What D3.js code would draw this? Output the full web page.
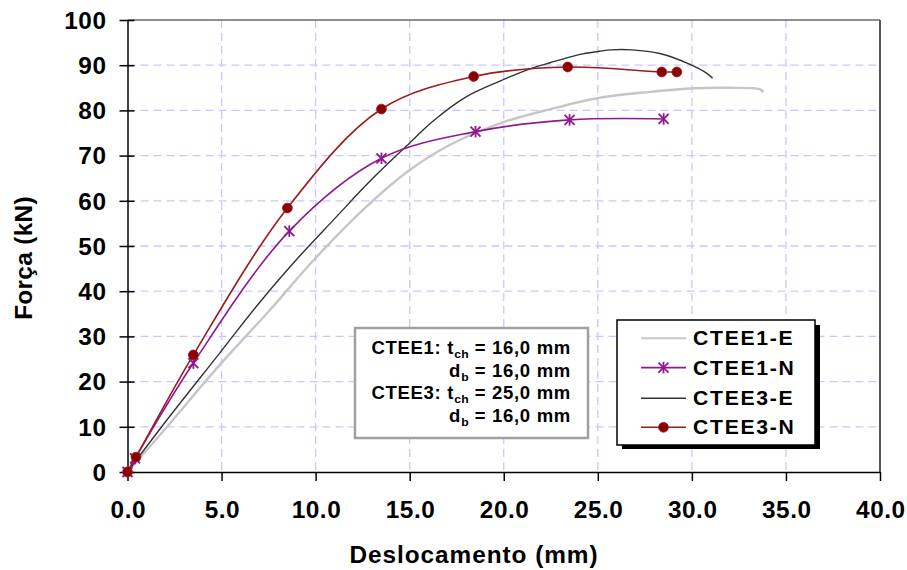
<!DOCTYPE html>
<html>
<head>
<meta charset="utf-8">
<script src="https://cdn.jsdelivr.net/npm/d3@7"></script>
<style>
  body { margin: 0; background: #fff; }
  text { font-family: "Liberation Sans", Arial, sans-serif; font-weight: bold; fill: #000; }
</style>
</head>
<body>
<svg id="chart" width="907" height="570"></svg>
<script>
// Axis ticks
const xTicks = [0, 5, 10, 15, 20, 25, 30, 35, 40];
const yTicks = [0, 10, 20, 30, 40, 50, 60, 70, 80, 90, 100];

// CTEE1-E (no markers)
const e1X = [0, 2.0, 4.9, 7.5, 9.9, 12.7, 15.0, 17.2, 20.0, 22.5, 25.1, 27.8, 30.1, 32.0, 33.6, 33.8];
const e1Y = [0, 9.5, 23.7, 35.5, 46.9, 58.7, 66.8, 72.5, 77.4, 80.3, 82.8, 84.1, 84.9, 85.0, 84.7, 84.1];

// CTEE1-N (star markers)
const n1X = [0, 0.4, 3.5, 8.6, 13.5, 18.5, 23.5, 28.5];
const n1Y = [0, 3.0, 24.1, 53.3, 69.4, 75.3, 77.9, 78.1];

// CTEE3-E (no markers)
const e3X = [0, 2.0, 4.9, 7.0, 9.2, 11.0, 13.0, 15.0, 16.2, 18.0, 19.8, 21.4, 22.5, 23.5, 24.2, 25.1, 25.7, 26.8, 28.3, 29.9, 30.8, 31.1];
const e3Y = [0, 11.0, 26.3, 37.4, 48.0, 56.0, 64.8, 72.8, 77.5, 83.0, 86.5, 89.2, 90.6, 91.8, 92.5, 93.1, 93.4, 93.4, 92.6, 90.2, 88.2, 87.1];

// CTEE3-N (circle markers)
const n3X = [0, 0.45, 3.5, 8.5, 13.5, 18.4, 23.4, 28.4, 29.2];
const n3Y = [0, 3.3, 25.9, 58.4, 80.3, 87.5, 89.6, 88.5, 88.5];

const legendNames = ["CTEE1-E", "CTEE1-N", "CTEE3-E", "CTEE3-N"];
const noteLines = [
  { lead: "CTEE1: t", sub: "ch", tail: " = 16,0 mm" },
  { lead: "d", sub: "b", tail: " = 16,0 mm" },
  { lead: "CTEE3: t", sub: "ch", tail: " = 25,0 mm" },
  { lead: "d", sub: "b", tail: " = 16,0 mm" }
];

const svg = d3.select("#chart");
const L = 127.5, R = 880, T = 20, B = 472;
const SX = 1.06; // horizontal widening of the bold face
const x = d3.scaleLinear().domain([0, 40]).range([L, R]);
const y = d3.scaleLinear().domain([0, 100]).range([B, T]);

const zip = (xs, ys) => xs.map((v, i) => [v, ys[i]]);
const series = [
  { name: "CTEE1-E", pts: zip(e1X, e1Y), color: "#c6c6c6", width: 2.4, marker: null },
  { name: "CTEE3-E", pts: zip(e3X, e3Y), color: "#333333", width: 1.4, marker: null },
  { name: "CTEE1-N", pts: zip(n1X, n1Y), color: "#8e1a8e", width: 1.6, marker: "star" },
  { name: "CTEE3-N", pts: zip(n3X, n3Y), color: "#9a1c1c", width: 1.6, marker: "circle" }
];

// gridlines
const grid = svg.append("g").attr("stroke", "#c8c8ff").attr("stroke-width", 1.3).attr("stroke-dasharray", "8,5");
grid.selectAll("line.v").data(xTicks.filter(d => d > 0 && d < 40)).join("line")
  .attr("x1", d => x(d)).attr("x2", d => x(d)).attr("y1", T).attr("y2", B);
grid.selectAll("line.h").data(yTicks.filter(d => d > 0 && d < 100)).join("line")
  .attr("x1", L).attr("x2", R).attr("y1", d => y(d)).attr("y2", d => y(d));

// plot frame (top and right)
svg.append("line").attr("x1", L).attr("x2", R).attr("y1", T).attr("y2", T).attr("stroke", "#6a6a6a").attr("stroke-width", 1.6);
svg.append("line").attr("x1", R).attr("x2", R).attr("y1", T).attr("y2", B).attr("stroke", "#555").attr("stroke-width", 2);

// axes
const xAxis = svg.append("g").attr("transform", `translate(0,${B})`)
  .call(d3.axisBottom(x).tickValues(xTicks).tickFormat(d3.format(".1f")).tickSize(9).tickSizeOuter(0));
xAxis.select(".domain").attr("stroke", "#000").attr("stroke-width", 1.5);
xAxis.selectAll(".tick line").attr("stroke", "#000").attr("stroke-width", 1.5);
xAxis.selectAll(".tick text").attr("y", 46).attr("dy", 0).attr("x", 0.3)
  .attr("transform", `scale(${SX},1)`)
  .style("font-size", "23px").style("letter-spacing", "0.5px").attr("fill", "#000");

const yAxis = svg.append("g").attr("transform", `translate(${L},0)`)
  .call(d3.axisLeft(y).tickValues(yTicks).tickFormat(d3.format("d")).tickSize(8).tickSizeOuter(0));
yAxis.select(".domain").attr("stroke", "#000").attr("stroke-width", 1.5);
yAxis.selectAll(".tick line").attr("x1", -8).attr("x2", 7).attr("stroke", "#000").attr("stroke-width", 1.5);
yAxis.selectAll(".tick text").attr("x", -21 / SX).attr("dy", "0.36em")
  .attr("transform", `scale(${SX},1)`)
  .style("font-size", "23px").style("letter-spacing", "0.5px").attr("fill", "#000");

// axis titles
svg.append("text").attr("transform", `translate(474,563) scale(${SX},1)`).attr("text-anchor", "middle")
  .style("font-size", "23px").style("letter-spacing", "0.9px").text("Deslocamento (mm)");
svg.append("text").attr("transform", `translate(32,258) rotate(-90) scale(${SX},1)`).attr("text-anchor", "middle")
  .style("font-size", "23px").style("letter-spacing", "0.3px").text("Força (kN)");

// curves
const line = d3.line().x(d => x(d[0])).y(d => y(d[1])).curve(d3.curveCatmullRom.alpha(0.5));
const plot = svg.append("g");
series.forEach(s => {
  plot.append("path").datum(s.pts).attr("d", line).attr("fill", "none")
    .attr("stroke", s.color).attr("stroke-width", s.width).attr("stroke-linejoin", "round");
});

function star(g, cx, cy, color, r) {
  const segs = [[-r, -r, r, r], [-r, r, r, -r], [0, -r * 1.15, 0, r * 1.15]];
  segs.forEach(sg => g.append("line")
    .attr("x1", cx + sg[0]).attr("y1", cy + sg[1]).attr("x2", cx + sg[2]).attr("y2", cy + sg[3])
    .attr("stroke", color).attr("stroke-width", 1.8));
}
function circ(g, cx, cy, color) {
  g.append("circle").attr("cx", cx).attr("cy", cy).attr("r", 4.9).attr("fill", "#8b0000").attr("stroke", color).attr("stroke-width", 0.8);
}

series.forEach(s => {
  if (!s.marker) return;
  const mg = plot.append("g");
  s.pts.forEach(p => {
    if (s.marker === "star") star(mg, x(p[0]), y(p[1]), s.color, 5);
    else circ(mg, x(p[0]), y(p[1]), s.color);
  });
});

// annotation box
const note = svg.append("g");
note.append("rect").attr("x", 355).attr("y", 328).attr("width", 233).attr("height", 110)
  .attr("fill", "#fff").attr("stroke", "#a0a0a0").attr("stroke-width", 2.5);
noteLines.forEach((ln, i) => {
  const t = note.append("text").attr("transform", `translate(571,${354.3 + i * 22.5}) scale(${SX},1)`)
    .attr("text-anchor", "end")
    .style("font-size", "17.5px").style("letter-spacing", "0.65px");
  t.append("tspan").text(ln.lead);
  t.append("tspan").attr("dy", 4).style("font-size", "11.5px").style("letter-spacing", "0.2px").text(ln.sub);
  t.append("tspan").attr("dy", -4).text(ln.tail);
});

// legend
const lg = svg.append("g");
lg.append("rect").attr("x", 622).attr("y", 325).attr("width", 198).attr("height", 124).attr("fill", "#000");
lg.append("rect").attr("x", 617).attr("y", 320).attr("width", 198).attr("height", 125)
  .attr("fill", "#fff").attr("stroke", "#000").attr("stroke-width", 1.5);
const legendRowY = [338.3, 367.6, 398.3, 427.3];
legendNames.forEach((nm, i) => {
  const s = series.find(d => d.name === nm);
  const ly = legendRowY[i];
  lg.append("line").attr("x1", 641).attr("x2", 686).attr("y1", ly).attr("y2", ly)
    .attr("stroke", s.color).attr("stroke-width", Math.min(s.width, 2));
  if (s.marker === "star") star(lg, 663.5, ly, s.color, 5);
  if (s.marker === "circle") circ(lg, 663.5, ly, s.color);
  lg.append("text").attr("transform", `translate(693,${ly + 7}) scale(${SX},1)`)
    .style("font-size", "20px").style("letter-spacing", "1.6px").text(nm);
});
</script>
</body>
</html>
